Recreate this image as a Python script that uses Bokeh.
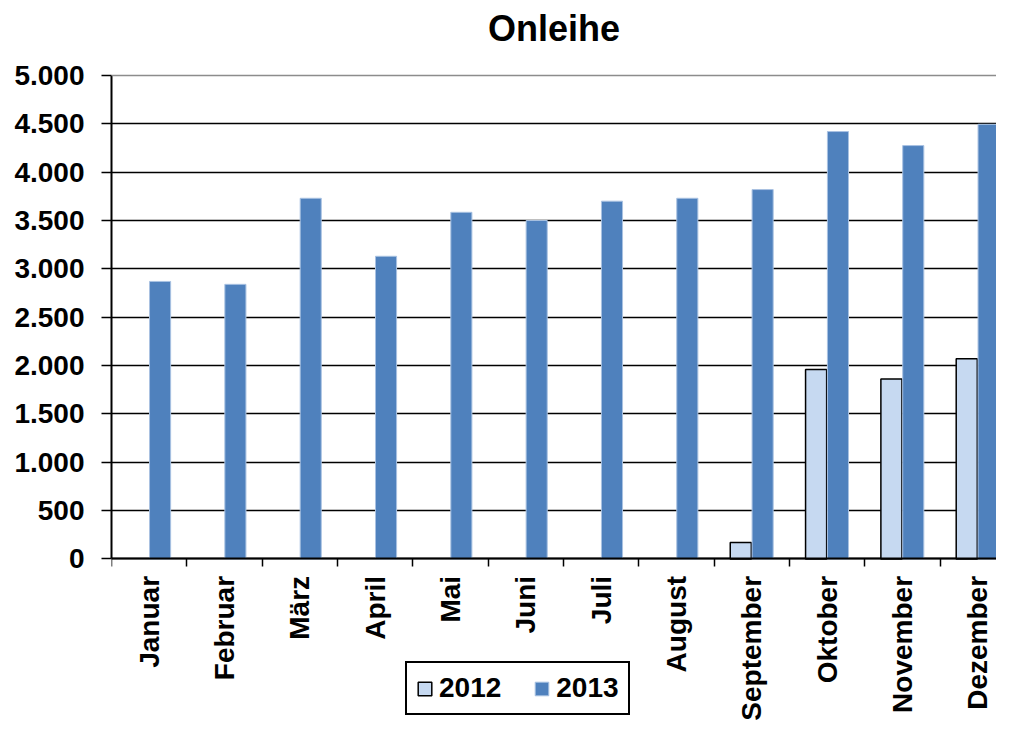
import numpy as np
from bokeh.plotting import figure
from bokeh.models import FixedTicker, Range1d, Legend, LegendItem, Span, ColumnDataSource
from bokeh.embed import file_html
from bokeh.resources import INLINE

title_text = "Onleihe"
months = ["Januar", "Februar", "März", "April", "Mai", "Juni", "Juli",
          "August", "September", "Oktober", "November", "Dezember"]
values_2012 = [None, None, None, None, None, None, None, None, 170, 1960, 1860, 2070]
values_2013 = [2870, 2840, 3730, 3130, 3585, 3500, 3700, 3730, 3820, 4420, 4275, 4495]
y_ticks = [0, 500, 1000, 1500, 2000, 2500, 3000, 3500, 4000, 4500, 5000]
y_tick_labels = ["0", "500", "1.000", "1.500", "2.000", "2.500", "3.000",
                 "3.500", "4.000", "4.500", "5.000"]

FONT = "Liberation Sans"
n = len(months)
centers = np.arange(n) + 0.5
bar_w = 0.28
off = 0.145

src = ColumnDataSource(dict(
    x12=centers - off,
    x13=centers + off,
    v12=[np.nan if v is None else v for v in values_2012],
    v13=values_2013,
))

# extra room (data units) below zero for month labels + legend, and above the top tick
below_room = 1795
above_room = 248

p = figure(width=996, height=732, x_range=Range1d(0, 11.75),
           y_range=Range1d(-below_room, y_ticks[-1] + above_room),
           output_backend="svg", toolbar_location=None,
           min_border_left=111, min_border_right=0,
           min_border_top=51, min_border_bottom=0,
           title=title_text)
p.outline_line_color = None
p.background_fill_color = "white"
p.border_fill_color = "white"

p.title.text_font = FONT
p.title.text_font_size = "36px"
p.title.text_font_style = "bold"
p.title.align = "center"
p.title.vertical_align = "bottom"
p.title.text_color = "black"
p.title.standoff = 6

r12 = p.vbar(x="x12", top="v12", bottom=0, width=bar_w, source=src,
             fill_color="#C6D9F1", line_color="black", line_width=1.5)
r13 = p.vbar(x="x13", top="v13", bottom=0, width=bar_w, source=src,
             fill_color="#4F81BD", line_color="#A9C2E2", line_width=1)

# y axis
p.yaxis.ticker = FixedTicker(ticks=y_ticks)
p.yaxis.bounds = (y_ticks[0], y_ticks[-1])
p.yaxis.major_label_overrides = {t: l for t, l in zip(y_ticks, y_tick_labels)}
p.yaxis.major_label_text_font = FONT
p.yaxis.major_label_text_font_size = "28px"
p.yaxis.major_label_text_font_style = "bold"
p.yaxis.major_label_text_color = "black"
p.yaxis.major_tick_out = 10
p.yaxis.major_tick_in = 0
p.yaxis.major_tick_line_color = "black"
p.yaxis.major_tick_line_width = 1.5
p.yaxis.minor_tick_line_color = None
p.yaxis.axis_line_color = "black"
p.yaxis.axis_line_width = 2
p.yaxis.major_label_standoff = 17

# x axis at y = 0: labels at centres, ticks at boundaries
p.xaxis.fixed_location = 0
p.xaxis.ticker = FixedTicker(ticks=list(centers), minor_ticks=list(np.arange(n + 1)))
p.xaxis.major_label_overrides = {float(c): m for c, m in zip(centers, months)}
p.xaxis.major_label_orientation = np.pi / 2
p.xaxis.major_label_text_font = FONT
p.xaxis.major_label_text_font_size = "28px"
p.xaxis.major_label_text_font_style = "bold"
p.xaxis.major_label_text_color = "black"
p.xaxis.major_tick_line_color = None
p.xaxis.minor_tick_out = 8
p.xaxis.minor_tick_in = 0
p.xaxis.minor_tick_line_color = "black"
p.xaxis.minor_tick_line_width = 1.5
p.xaxis.axis_line_color = "black"
p.xaxis.axis_line_width = 2
p.xaxis.major_label_standoff = 9

p.xgrid.grid_line_color = None
p.ygrid.ticker = FixedTicker(ticks=y_ticks[:-1])
p.ygrid.grid_line_color = "black"
p.ygrid.grid_line_width = 1.5
p.add_layout(Span(location=y_ticks[-1], dimension="width",
                  line_color="#8c8c8c", line_width=1.5))

legend = Legend(items=[LegendItem(label="2012", renderers=[r12]),
                       LegendItem(label="2013", renderers=[r13])],
                location=(294, 17), orientation="horizontal",
                glyph_width=17, glyph_height=17, label_standoff=6,
                spacing=32, padding=9, margin=0,
                label_text_font=FONT, label_text_font_size="28px",
                label_text_font_style="bold", label_text_color="black",
                border_line_color="black", border_line_width=2,
                border_line_alpha=1.0,
                background_fill_color="white", background_fill_alpha=1)
p.add_layout(legend, "center")

open("out.html", "w").write(file_html(p, INLINE))
